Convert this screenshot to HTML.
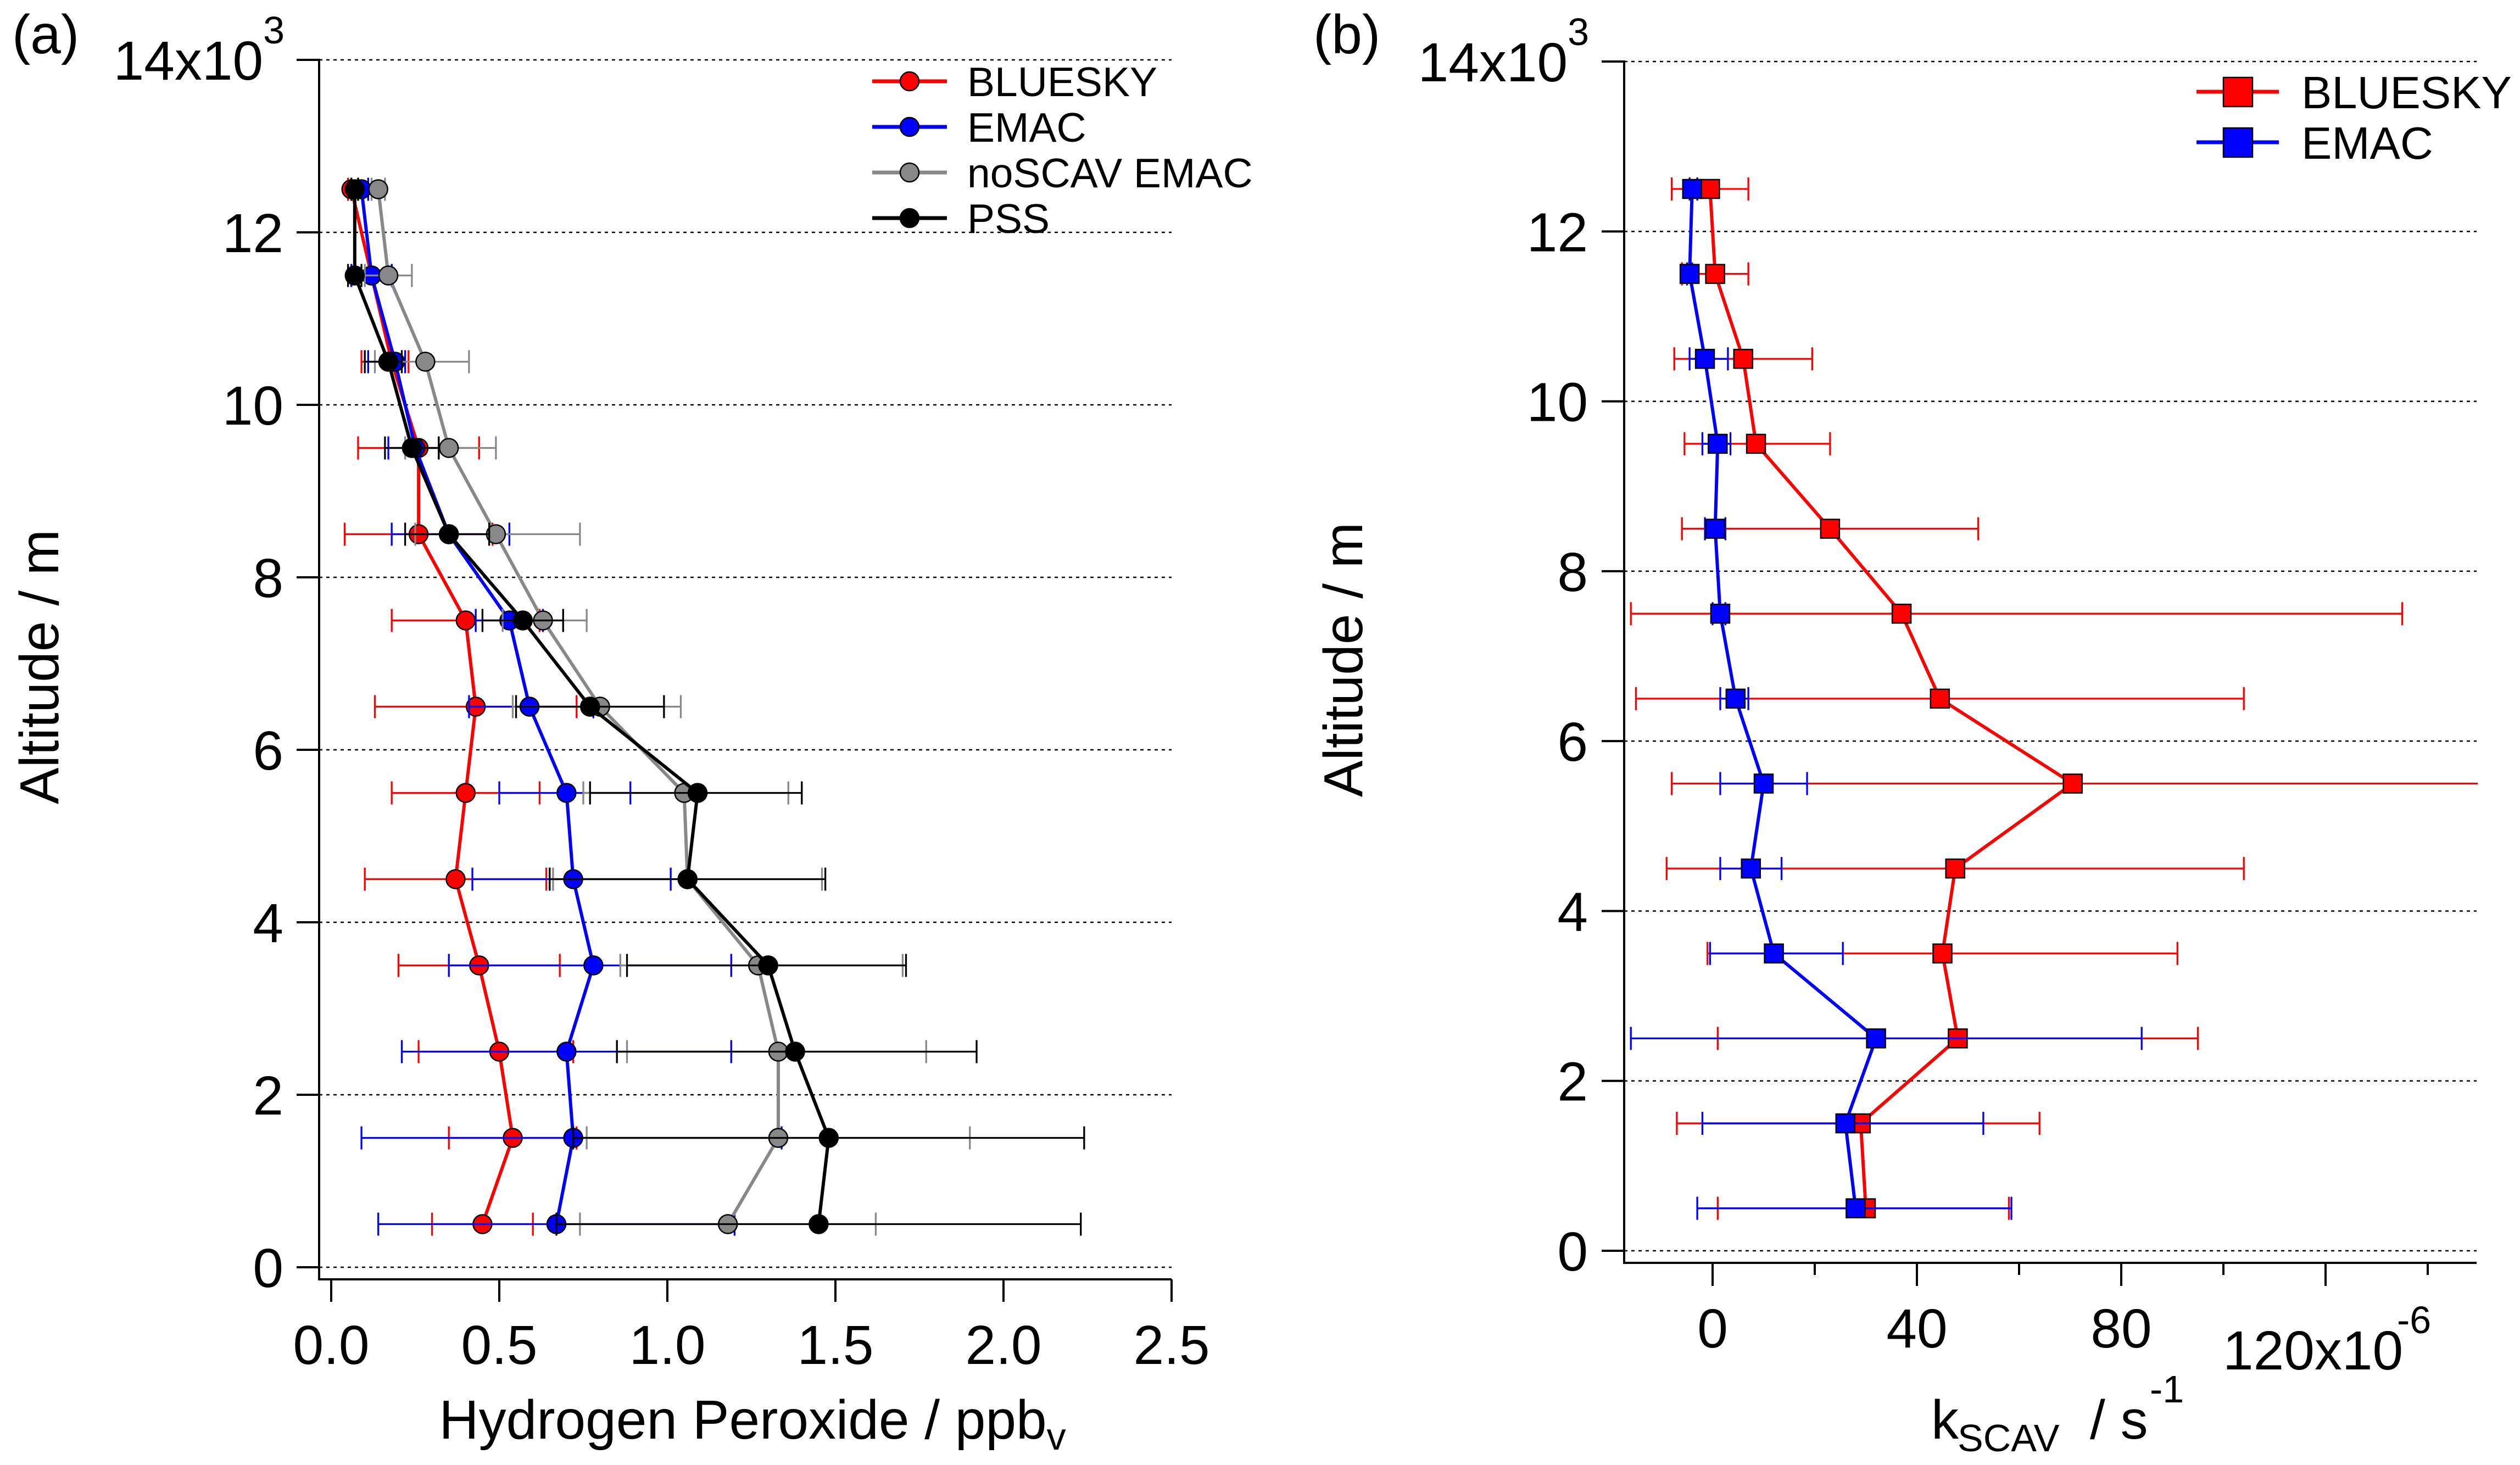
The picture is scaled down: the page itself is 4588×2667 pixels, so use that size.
<!DOCTYPE html>
<html><head><meta charset="utf-8"><style>
html,body{margin:0;padding:0;background:#fff;}
svg{display:block;font-family:"Liberation Sans",Arial,sans-serif;}
</style></head><body>
<svg id="chart" width="4588" height="2667" viewBox="0 0 4588 2667" xmlns="http://www.w3.org/2000/svg">
<g id="pa"></g>
<g id="pb"></g>
</svg>
<script>
// Shared altitude levels (m)
const altitudes = [12500,11500,10500,9500,8500,7500,6500,5500,4500,3500,2500,1500,500];
const altTicks = [0,2000,4000,6000,8000,10000,12000,14000];
const altTickLabels = ["0","2","4","6","8","10","12","14x10"];

// Panel (a) H2O2 ppbv
const aTicks = [0,0.5,1.0,1.5,2.0,2.5];
const aTickLabels = ["0.0","0.5","1.0","1.5","2.0","2.5"];
const blueskyA = [0.06,0.12,0.18,0.26,0.26,0.40,0.43,0.40,0.37,0.44,0.50,0.54,0.45];
const blueskyALo = [0.05,0.06,0.09,0.08,0.04,0.18,0.13,0.18,0.10,0.20,0.26,0.35,0.30];
const blueskyAHi = [0.08,0.18,0.23,0.44,0.48,0.62,0.73,0.62,0.64,0.68,0.72,0.73,0.60];
const emacA = [0.09,0.12,0.19,0.25,0.35,0.53,0.59,0.70,0.72,0.78,0.70,0.72,0.67];
const emacALo = [0.08,0.06,0.11,0.17,0.18,0.43,0.41,0.50,0.42,0.35,0.21,0.09,0.14];
const emacAHi = [0.11,0.18,0.22,0.32,0.53,0.63,0.78,0.89,1.01,1.19,1.19,1.34,1.20];
const noscavA = [0.14,0.17,0.28,0.35,0.49,0.63,0.80,1.05,1.06,1.27,1.33,1.33,1.18];
const noscavALo = [0.12,0.10,0.13,0.22,0.25,0.51,0.54,0.75,0.66,0.86,0.88,0.76,0.74];
const noscavAHi = [0.16,0.24,0.41,0.49,0.74,0.76,1.04,1.36,1.46,1.70,1.77,1.90,1.62];
const pssA = [0.07,0.07,0.17,0.24,0.35,0.57,0.77,1.09,1.06,1.30,1.38,1.48,1.45];
const pssALo = [0.06,0.05,0.10,0.16,0.22,0.45,0.55,0.77,0.65,0.88,0.85,0.72,0.67];
const pssAHi = [0.08,0.09,0.21,0.32,0.47,0.69,0.99,1.40,1.47,1.71,1.92,2.24,2.23];

// Panel (b) kSCAV (1e-6 s^-1)
const bTicks = [0,40,80,120];
const bTickLabels = ["0","40","80",""];
const bMinorTicks = [20,60,100,140];
const blueskyB = [-0.5,0.5,6,8.5,23,37,44.5,70.5,47.5,45,48,29,30];
const blueskyBLo = [-8,-6,-7.5,-5.5,-6,-16,-15,-8,-9,-1,1,-7,1];
const blueskyBHi = [7,7,19.5,23,52,135,104,150,104,91,95,64,58];
const emacB = [-4,-4.5,-1.5,1,0.5,1.5,4.5,10,7.5,12,32,26,28];
const emacBLo = [-4.5,-5,-4.5,-2,-1.5,0,1.5,1.5,1.5,-0.5,-16,-2,-3];
const emacBHi = [-3,-4,3,3.5,2.5,2.5,7,18.5,13.5,25.5,84,53,58.5];

const NS="http://www.w3.org/2000/svg";
function mk(parent,tag,attrs,text){const e=document.createElementNS(NS,tag);for(const k in attrs)e.setAttribute(k,attrs[k]);if(text!==undefined)e.textContent=text;parent.appendChild(e);return e;}

// axis functions
const ax = v => 603 + v*612;
const ay = a => 2307 - a*0.157;
const bx = k => 3118 + k*9.3;
const by = a => 2277 - a*0.15464;

function drawPanel(g, X, Y, xl, xr, xAxisY, yTickRightLabel){
  altTicks.forEach((t,i)=>{
    const gl=mk(g,'line',{x1:xl,x2:xr,y1:Y(t),y2:Y(t),stroke:'#000','stroke-width':2.5,'stroke-dasharray':'6,7'});
    
    
    const tk=mk(g,'line',{x1:xl-41,x2:xl,y1:Y(t),y2:Y(t),stroke:'#000','stroke-width':4});
    
    
    const lb=mk(g,'text',{x:yTickRightLabel,y:Y(t)+36,'font-size':100,'text-anchor':'end'},altTickLabels[i]);
    
    
    if(i===altTicks.length-1){
      const sp=mk(g,'tspan',{dy:-66,'font-size':70},'3');
      lb.appendChild(sp);
      lb.setAttribute('x',yTickRightLabel+2);
    }
  });
  const yax=mk(g,'line',{x1:xl,x2:xl,y1:Y(14000)-2,y2:xAxisY+2,stroke:'#000','stroke-width':4});
  
  
  const xax=mk(g,'line',{x1:xl-2,x2:xr,y1:xAxisY,y2:xAxisY,stroke:'#000','stroke-width':4});
  
  
}

function series(g, X, Y, vals, lo, hi, color, errColor, shape, name){
  const sg=mk(g,'g',{});
  
  
  altitudes.forEach((a,i)=>{
    const y=Y(a);
    const eb=mk(sg,'g',{stroke:errColor,'stroke-width':3.3});
    
    
    mk(eb,'line',{x1:X(lo[i]),x2:X(hi[i]),y1:y,y2:y});
    mk(eb,'line',{x1:X(lo[i]),x2:X(lo[i]),y1:y-21,y2:y+21});
    mk(eb,'line',{x1:X(hi[i]),x2:X(hi[i]),y1:y-21,y2:y+21});
  });
  const pts=altitudes.map((a,i)=>X(vals[i])+','+Y(a)).join(' ');
  const pl=mk(sg,'polyline',{points:pts,fill:'none',stroke:color,'stroke-width':6,'stroke-linejoin':'round'});
  
  
  altitudes.forEach((a,i)=>{
    let m;
    if(shape==='circle') m=mk(sg,'circle',{cx:X(vals[i]),cy:Y(a),r:17,fill:color,stroke:'#000','stroke-width':2.5});
    else m=mk(sg,'rect',{x:X(vals[i])-17,y:Y(a)-17,width:34,height:34,fill:color,stroke:'#000','stroke-width':2.5});
    
    
  });
}

// ---------- Panel A ----------
const pa=document.getElementById('pa');
drawPanel(pa, ax, ay, 581, 2133, 2329, 516);
aTicks.forEach((t,i)=>{
  const tk=mk(pa,'line',{x1:ax(t),x2:ax(t),y1:2329,y2:2370,stroke:'#000','stroke-width':4});
  
  
  const lb=mk(pa,'text',{x:ax(t),y:2483,'font-size':100,'text-anchor':'middle'},aTickLabels[i]);
  
  
});
series(pa, ax, ay, blueskyA, blueskyALo, blueskyAHi, '#ff0000', '#ff0000', 'circle', 'series-bluesky');
series(pa, ax, ay, emacA, emacALo, emacAHi, '#0000ff', '#0000ff', 'circle', 'series-emac');
series(pa, ax, ay, noscavA, noscavALo, noscavAHi, '#888888', '#888888', 'circle', 'series-noscav-emac');
series(pa, ax, ay, pssA, pssALo, pssAHi, '#000000', '#000000', 'circle', 'series-pss');
</script>
<svg style="position:absolute;left:0;top:0" width="4588" height="2667">
<g font-family="Liberation Sans, Arial, sans-serif">
<text x="22" y="97" font-size="100">(a)</text>
<text x="2391" y="97" font-size="100">(b)</text>
<text transform="translate(106,1214) rotate(-90)" font-size="100" text-anchor="middle">Altitude / m</text>
<text transform="translate(2480,1201) rotate(-90)" font-size="100" text-anchor="middle">Altitude / m</text>
<text x="1370" y="2619" font-size="100" text-anchor="middle">Hydrogen Peroxide / ppb<tspan font-size="70" dy="20">v</tspan></text>
<g>
<text x="3516" y="2619" font-size="100">k</text>
<text x="3564" y="2642" font-size="70">SCAV</text>
<text x="3805" y="2619" font-size="100">/ s</text>
<text x="3914" y="2553" font-size="70">-1</text>
</g>
<g>
<text x="4047" y="2493" font-size="100">120x10</text>
<text x="4364" y="2427" font-size="70">-6</text>
</g>
<g>
<g><line x1="1588" x2="1724" y1="148" y2="148" stroke="#ff0000" stroke-width="7"/><circle cx="1656" cy="148" r="17" fill="#ff0000" stroke="#000" stroke-width="2.5"/><text x="1761" y="175" font-size="75">BLUESKY</text></g>
<g><line x1="1588" x2="1724" y1="231" y2="231" stroke="#0000ff" stroke-width="7"/><circle cx="1656" cy="231" r="17" fill="#0000ff" stroke="#000" stroke-width="2.5"/><text x="1761" y="258" font-size="75">EMAC</text></g>
<g><line x1="1588" x2="1724" y1="314" y2="314" stroke="#888888" stroke-width="7"/><circle cx="1656" cy="314" r="17" fill="#888888" stroke="#000" stroke-width="2.5"/><text x="1761" y="341" font-size="75">noSCAV EMAC</text></g>
<g><line x1="1588" x2="1724" y1="397" y2="397" stroke="#000" stroke-width="7"/><circle cx="1656" cy="397" r="17" fill="#000" stroke="#000" stroke-width="2.5"/><text x="1761" y="424" font-size="75">PSS</text></g>
</g>
<g>
<g><line x1="3999" x2="4149" y1="167" y2="167" stroke="#ff0000" stroke-width="7"/><rect x="4048" y="141" width="53" height="53" fill="#ff0000" stroke="#000" stroke-width="2.5"/><text x="4190" y="197" font-size="83">BLUESKY</text></g>
<g><line x1="3999" x2="4149" y1="259" y2="259" stroke="#0000ff" stroke-width="7"/><rect x="4048" y="233" width="53" height="53" fill="#0000ff" stroke="#000" stroke-width="2.5"/><text x="4190" y="289" font-size="83">EMAC</text></g>
</g>
</g>
</svg>
<script>
// ---------- Panel B ----------
(function(){
const pb=document.getElementById('pb');
drawPanel(pb, bx, by, 2957, 4509, 2299, 2891);
bTicks.forEach((t,i)=>{
  const tk=mk(pb,'line',{x1:bx(t),x2:bx(t),y1:2299,y2:2341,stroke:'#000','stroke-width':4});
  
  
  if(bTickLabels[i]){
    const lb=mk(pb,'text',{x:bx(t),y:2453,'font-size':100,'text-anchor':'middle'},bTickLabels[i]);
    
    
  }
});
bMinorTicks.forEach(t=>{
  const tk=mk(pb,'line',{x1:bx(t),x2:bx(t),y1:2299,y2:2321,stroke:'#000','stroke-width':4});
  
  
});
const clip=mk(document.getElementById('chart'),'clipPath',{id:'clipb'});
mk(clip,'rect',{x:2940,y:0,width:1571,height:2667});
const sg=mk(pb,'g',{'clip-path':'url(#clipb)'});


series(sg, bx, by, blueskyB, blueskyBLo, blueskyBHi, '#ff0000', '#ff0000', 'rect', 'series-bluesky-b');
series(sg, bx, by, emacB, emacBLo, emacBHi, '#0000ff', '#0000ff', 'rect', 'series-emac-b');
})();
</script>
</body></html>
